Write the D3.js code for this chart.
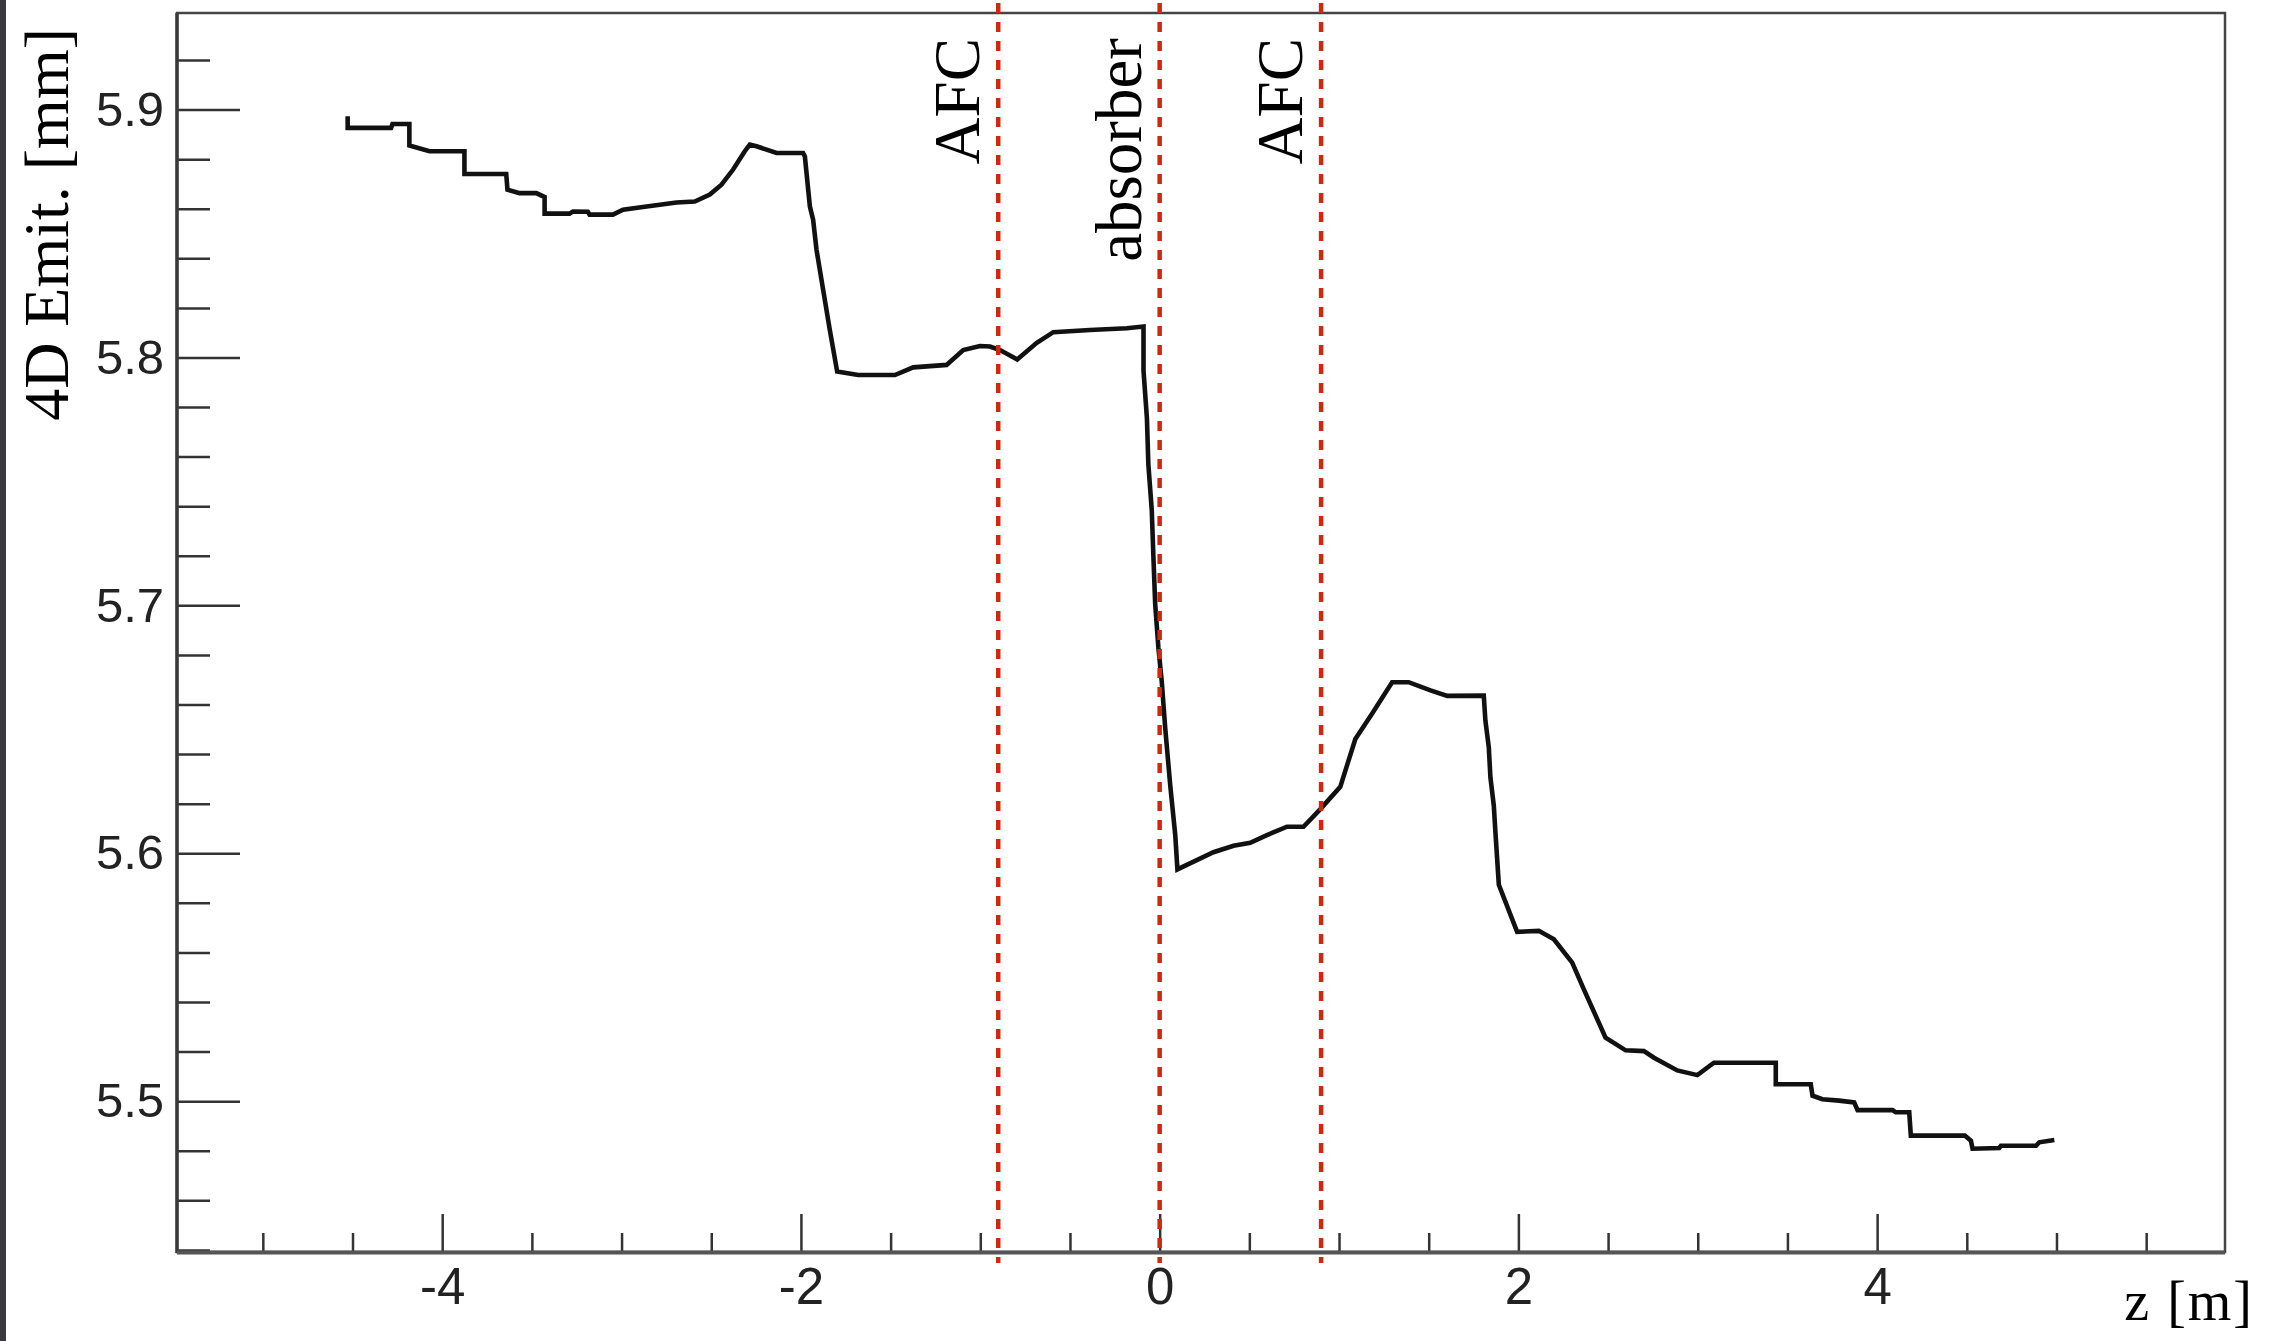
<!DOCTYPE html>
<html>
<head>
<meta charset="utf-8">
<script src="https://cdn.jsdelivr.net/npm/d3@7"></script>
<style>
  html, body { margin: 0; padding: 0; background: #fff; }
  svg { display: block; }
</style>
</head>
<body>
<svg id="chart" width="2274" height="1341"></svg>
<script>
// Longitudinal position along the beamline [m]
const zPos = [
  -4.527, -4.527, -4.285, -4.277, -4.183, -4.183, -4.071, -3.876, -3.876, -3.643,
  -3.636, -3.569, -3.475, -3.429, -3.429, -3.290, -3.271, -3.188, -3.178, -3.048,
  -2.992, -2.881, -2.787, -2.694, -2.592, -2.508, -2.443, -2.378, -2.313, -2.285,
  -2.248, -2.136, -1.988, -1.978, -1.950, -1.932, -1.913, -1.876, -1.839, -1.798,
  -1.681, -1.476, -1.374, -1.188, -1.095, -1.002, -0.946, -0.890, -0.794, -0.685,
  -0.593, -0.388, -0.183, -0.090,
  -0.090, -0.071, -0.063, -0.044, -0.035, -0.025, -0.007, 0.012, 0.031, 0.059,
  0.087, 0.099,
  0.300, 0.412, 0.505, 0.598, 0.710, 0.802, 0.896, 1.007, 1.091, 1.184,
  1.296, 1.388, 1.510, 1.603, 1.807,
  1.816, 1.835, 1.844, 1.863, 1.872, 1.891, 1.993, 2.114, 2.198, 2.300,
  2.365, 2.486, 2.598, 2.700, 2.756, 2.886, 2.998, 3.090, 3.435, 3.435,
  3.630, 3.640, 3.695, 3.788, 3.872, 3.891, 4.086, 4.104, 4.179, 4.188,
  4.489, 4.523, 4.532, 4.681, 4.690, 4.886, 4.904, 4.988
];

// 4D transverse emittance [mm]
const emittance = [
  5.8973, 5.8926, 5.8926, 5.8942, 5.8942, 5.8855, 5.8832, 5.8832, 5.8740, 5.8740,
  5.8677, 5.8663, 5.8663, 5.8647, 5.8580, 5.8580, 5.8589, 5.8588, 5.8576, 5.8576,
  5.8596, 5.8607, 5.8616, 5.8625, 5.8629, 5.8657, 5.8697, 5.8758, 5.8832, 5.8859,
  5.8852, 5.8825, 5.8825, 5.8811, 5.8609, 5.8556, 5.8434, 5.8273, 5.8111, 5.7943,
  5.7929, 5.7929, 5.7960, 5.7970, 5.8030, 5.8046, 5.8044, 5.8030, 5.7992, 5.8059,
  5.8102, 5.8111, 5.8118, 5.8125,
  5.7947, 5.7754, 5.7569, 5.7384, 5.7199, 5.7006, 5.6829, 5.6690, 5.6505, 5.6274,
  5.6073, 5.5935,
  5.6004, 5.6030, 5.6042, 5.6073, 5.6107, 5.6107, 5.6178, 5.6268, 5.6461, 5.6563,
  5.6690, 5.6690, 5.6657, 5.6635, 5.6636,
  5.6535, 5.6428, 5.6306, 5.6192, 5.6084, 5.5873, 5.5683, 5.5687, 5.5653, 5.5559,
  5.5451, 5.5256, 5.5205, 5.5202, 5.5175, 5.5124, 5.5105, 5.5155, 5.5155, 5.5068,
  5.5068, 5.5022, 5.5008, 5.5002, 5.4995, 5.4964, 5.4964, 5.4955, 5.4955, 5.4861,
  5.4861, 5.4840, 5.4808, 5.4811, 5.4820, 5.4820, 5.4834, 5.4843
];

// Element positions (dashed markers) and their names
const markerZ = [-0.9, 0.0, 0.9];
const markerLabels = ["AFC", "absorber", "AFC"];

// Axis ticks and labels
const xMajorTicks = [-4, -2, 0, 2, 4];
const xTickLabels = ["-4", "-2", "0", "2", "4"];
const yMajorTicks = [5.5, 5.6, 5.7, 5.8, 5.9];
const yTickLabels = ["5.5", "5.6", "5.7", "5.8", "5.9"];
const xTitle = "z [m]";
const yTitle = "4D Emit. [mm]";

const points = zPos.map((z, i) => ({ z: z, v: emittance[i] }));

const svg = d3.select("#chart");
const W = 2274, H = 1341;
const frame = { left: 177, right: 2225, top: 13, bottom: 1252 };
const serif = "'Liberation Serif', 'Times New Roman', serif";
const sans = "'Liberation Sans', Arial, sans-serif";

svg.append("rect").attr("width", W).attr("height", H).attr("fill", "#fff");
// dark strip along the left edge
svg.append("rect").attr("x", 0).attr("y", 0).attr("width", 6).attr("height", H).attr("fill", "#3a3a3c");

// Auto range with 10% padding on each side
const zExt = d3.extent(zPos), vExt = d3.extent(emittance);
const zPad = 0.1 * (zExt[1] - zExt[0]);
const vPad = 0.1 * (vExt[1] - vExt[0]);

const x = d3.scaleLinear()
  .domain([zExt[0] - zPad, zExt[1] + zPad])
  .range([frame.left, frame.right]);
const y = d3.scaleLinear()
  .domain([vExt[0] - vPad, vExt[1] + vPad])
  .range([frame.bottom, frame.top]);

const xMinor = d3.range(-5, 6, 0.5).filter(t => t >= x.domain()[0] && t <= x.domain()[1] && !xMajorTicks.includes(t));
const yMinor = d3.range(5.44, 5.95, 0.02).map(t => +t.toFixed(2))
  .filter(t => t >= y.domain()[0] && t <= y.domain()[1] && !yMajorTicks.some(m => Math.abs(m - t) < 1e-9));

// Y axis (ticks pointing into the frame)
const yMinorAxis = svg.append("g")
  .attr("transform", `translate(${frame.left},0)`)
  .call(d3.axisLeft(y).tickValues(yMinor).tickSize(-33).tickFormat(""));
const yMajorAxis = svg.append("g")
  .attr("transform", `translate(${frame.left},0)`)
  .call(d3.axisLeft(y).tickValues(yMajorTicks).tickSize(-63).tickPadding(13)
    .tickFormat((d, i) => yTickLabels[i]));

// X axis
const xMinorAxis = svg.append("g")
  .attr("transform", `translate(0,${frame.bottom})`)
  .call(d3.axisBottom(x).tickValues(xMinor).tickSize(-19).tickFormat(""));
const xMajorAxis = svg.append("g")
  .attr("transform", `translate(0,${frame.bottom})`)
  .call(d3.axisBottom(x).tickValues(xMajorTicks).tickSize(-38).tickPadding(16)
    .tickFormat((d, i) => xTickLabels[i]));

[yMinorAxis, yMajorAxis, xMinorAxis, xMajorAxis].forEach(g => {
  g.select(".domain").remove();
  g.selectAll(".tick line").attr("stroke", "#333").attr("stroke-width", 2.5);
});
yMajorAxis.selectAll(".tick text")
  .attr("font-family", sans).attr("font-size", 49).attr("fill", "#222");
xMajorAxis.selectAll(".tick text")
  .attr("font-family", sans).attr("font-size", 51).attr("fill", "#222");

// Frame
svg.append("rect")
  .attr("x", frame.left).attr("y", frame.top)
  .attr("width", frame.right - frame.left).attr("height", frame.bottom - frame.top)
  .attr("fill", "none").attr("stroke", "#444").attr("stroke-width", 2.5);
svg.append("line")
  .attr("x1", frame.left).attr("x2", frame.left).attr("y1", frame.top).attr("y2", frame.bottom + 1)
  .attr("stroke", "#3a3a3a").attr("stroke-width", 3.5);
svg.append("line")
  .attr("x1", frame.left).attr("x2", frame.right).attr("y1", frame.bottom + 0.5).attr("y2", frame.bottom + 0.5)
  .attr("stroke", "#555").attr("stroke-width", 4);

// Emittance curve
const line = d3.line().x(d => x(d.z)).y(d => y(d.v));
svg.append("path")
  .datum(points)
  .attr("d", line)
  .attr("fill", "none")
  .attr("stroke", "#111")
  .attr("stroke-width", 4.6)
  .attr("stroke-linejoin", "miter");

// Dashed element markers
svg.selectAll("line.marker")
  .data(markerZ)
  .join("line")
  .attr("class", "marker")
  .attr("x1", d => x(d)).attr("x2", d => x(d))
  .attr("y1", frame.top - 10).attr("y2", frame.bottom + 11)
  .attr("stroke", "#d0280c")
  .attr("stroke-width", 4.5)
  .attr("stroke-dasharray", "10,9");

svg.selectAll("text.marker-label")
  .data(markerZ)
  .join("text")
  .attr("class", "marker-label")
  .attr("transform", d => `translate(${x(d) - 19},38) rotate(-90)`)
  .attr("text-anchor", "end")
  .attr("font-family", serif)
  .attr("font-size", 65)
  .attr("fill", "#000")
  .text((d, i) => markerLabels[i]);

// Axis titles
svg.append("text")
  .attr("transform", "translate(68,28) rotate(-90)")
  .attr("text-anchor", "end")
  .attr("font-family", serif)
  .attr("font-size", 64)
  .attr("fill", "#000")
  .text(yTitle);

svg.append("text")
  .attr("x", 2254).attr("y", 1320)
  .attr("text-anchor", "end")
  .attr("font-family", serif)
  .attr("font-size", 56)
  .attr("letter-spacing", 2)
  .attr("fill", "#000")
  .text(xTitle);
</script>
</body>
</html>
